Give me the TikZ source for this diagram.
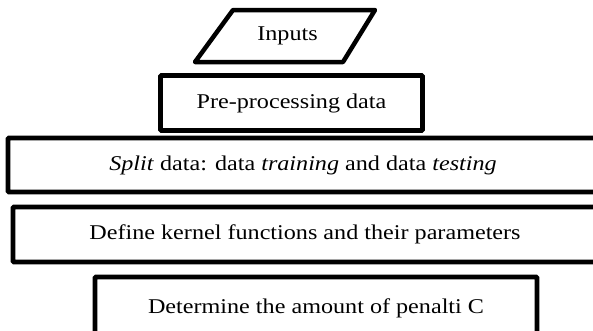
\documentclass[tikz,border=0pt]{standalone}
\usepackage{fontspec}
\setmainfont[FakeStretch=1.15]{Liberation Serif}
\usetikzlibrary{calc}

\begin{document}
\begin{tikzpicture}[x=1pt, y=-1pt,
  stepbox/.style={draw, line width=4.8pt, rounded corners=1pt, inner sep=0pt},
  every node/.style={font=\fontsize{21}{25}\selectfont}]
  \useasboundingbox (0,0) rectangle (593,330);
  \clip (0,0) rectangle (593,330);

  % Draw the input parallelogram
  \draw[line width=4.5pt, line join=round] (195,62) -- (233,10) -- (375,10) -- (343,62) -- cycle;
  \node (inputs) at (287.5,36) {Inputs};

  % Draw the process boxes
  \node[stepbox, minimum width=262, minimum height=55] (prep) at (291.5,103) {Pre-processing data};
  \node[stepbox, minimum width=590, minimum height=54] (split) at (303,165)
    {\textit{Split} data: data \textit{training} and data \textit{testing}};
  \node[stepbox, minimum width=584, minimum height=55] (kernel) at (305,234.5)
    {Define kernel functions and their parameters};
  \node[stepbox, minimum width=442, minimum height=62] (penalty) at (316,308)
    {Determine the amount of penalti C};
\end{tikzpicture}
\end{document}
